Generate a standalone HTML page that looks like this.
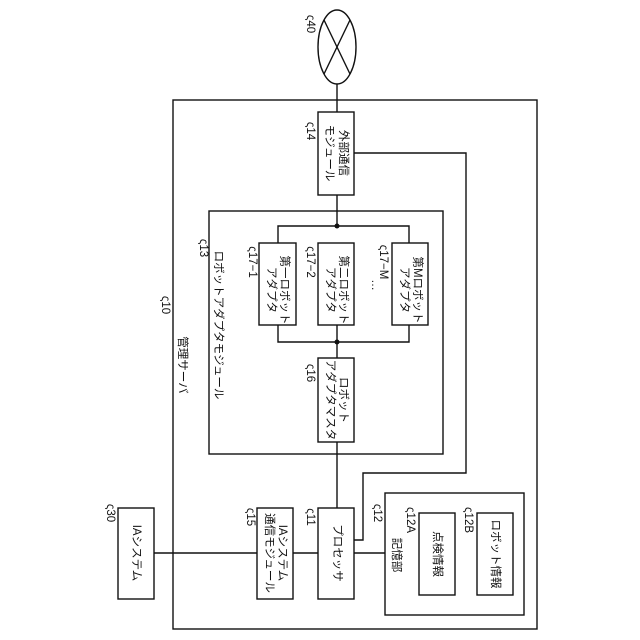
<!DOCTYPE html>
<html><head><meta charset="utf-8"><style>
html,body{margin:0;padding:0;background:#fff}
svg{display:block}
text{font-family:"Liberation Sans","Noto Sans CJK JP",sans-serif;font-size:11.5px;fill:#111}
</style></head><body>
<svg width="640" height="640" viewBox="0 0 640 640" xmlns="http://www.w3.org/2000/svg">
<g fill="none" stroke="#111" stroke-width="1.4">
<ellipse cx="337" cy="47" rx="19" ry="37"/>
<line x1="324" y1="20" x2="350" y2="74"/>
<line x1="350" y1="20" x2="324" y2="74"/>
<line x1="337" y1="84" x2="337" y2="112"/>
<rect x="173" y="100" width="364" height="529"/>
<rect x="318" y="112" width="36" height="83"/>
<polyline points="354,153 466,153 466,473 363,473 363,540 354,540"/>
<line x1="337" y1="195" x2="337" y2="226"/>
<rect x="209" y="211" width="234" height="243"/>
<polyline points="278,243 278,226 409,226 409,243"/>
<rect x="259" y="243" width="37" height="82"/>
<rect x="318" y="243" width="36" height="82"/>
<rect x="392" y="243" width="36" height="82"/>
<polyline points="278,325 278,342 409,342 409,325"/>
<line x1="337" y1="325" x2="337" y2="358"/>
<rect x="318" y="358" width="36" height="84"/>
<line x1="337" y1="442" x2="337" y2="508"/>
<rect x="318" y="508" width="36" height="91"/>
<rect x="257" y="508" width="36" height="91"/>
<rect x="118" y="508" width="36" height="91"/>
<line x1="154" y1="553" x2="257" y2="553"/>
<line x1="293" y1="553" x2="318" y2="553"/>
<line x1="354" y1="553" x2="385" y2="553"/>
<rect x="385" y="493" width="139" height="122"/>
<rect x="419" y="513" width="36" height="82"/>
<rect x="477" y="513" width="36" height="82"/>
</g>
<g fill="#111"><circle cx="337" cy="226" r="2.5"/><circle cx="337" cy="342" r="2.5"/></g>
<g text-anchor="middle" dominant-baseline="central">
<text transform="translate(310,24) rotate(90)">ς40</text>
<text transform="translate(310,131) rotate(90)">ς14</text>
<text transform="translate(343,153) rotate(90)">外部通信</text>
<text transform="translate(329,153) rotate(90)">モジュール</text>
<text transform="translate(203,248) rotate(90)">ς13</text>
<text transform="translate(252,262) rotate(90)">ς17−1</text>
<text transform="translate(310,262) rotate(90)">ς17−2</text>
<text transform="translate(383,262) rotate(90)">ς17−M</text>
<text transform="translate(284,290) rotate(90)">第一ロボット</text>
<text transform="translate(271,290) rotate(90)">アダプタ</text>
<text transform="translate(343,290) rotate(90)">第二ロボット</text>
<text transform="translate(330,290) rotate(90)">アダプタ</text>
<text transform="translate(417,290) rotate(90)">第Mロボット</text>
<text transform="translate(404,290) rotate(90)">アダプタ</text>
<text transform="translate(375,285) rotate(90)">…</text>
<text transform="translate(165,305) rotate(90)">ς10</text>
<text transform="translate(182,365) rotate(90)">管理サーバ</text>
<text transform="translate(218,325) rotate(90)">ロボットアダプタモジュール</text>
<text transform="translate(310,373) rotate(90)">ς16</text>
<text transform="translate(343,400) rotate(90)">ロボット</text>
<text transform="translate(330,400) rotate(90)">アダプタマスタ</text>
<text transform="translate(110,513) rotate(90)">ς30</text>
<text transform="translate(136,553) rotate(90)">IAシステム</text>
<text transform="translate(250,517) rotate(90)">ς15</text>
<text transform="translate(282,553) rotate(90)">IAシステム</text>
<text transform="translate(269,553) rotate(90)">通信モジュール</text>
<text transform="translate(310,517) rotate(90)">ς11</text>
<text transform="translate(337,553) rotate(90)">プロセッサ</text>
<text transform="translate(377,513) rotate(90)">ς12</text>
<text transform="translate(396,555) rotate(90)">記憶部</text>
<text transform="translate(410,520) rotate(90)">ς12A</text>
<text transform="translate(437,554) rotate(90)">点検情報</text>
<text transform="translate(468,520) rotate(90)">ς12B</text>
<text transform="translate(495,554) rotate(90)">ロボット情報</text>
</g>
</svg>
</body></html>
